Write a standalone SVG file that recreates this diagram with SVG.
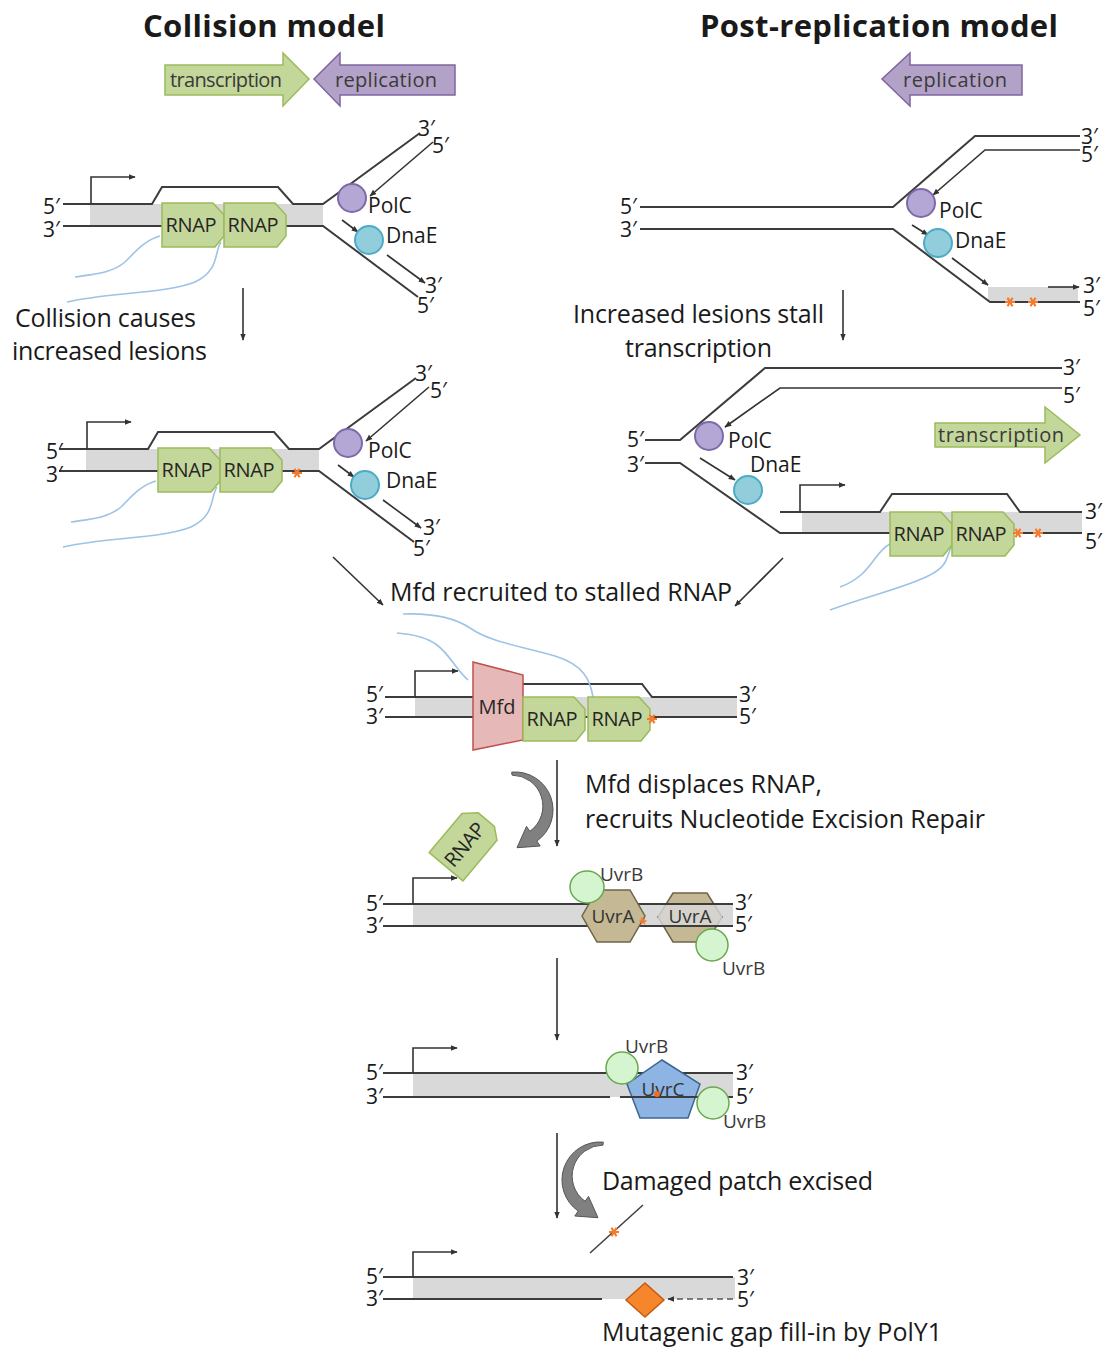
<svg xmlns="http://www.w3.org/2000/svg" width="1110" height="1350" viewBox="0 0 1110 1350">
<style>
  text{font-family:"Open Sans","Liberation Sans",sans-serif;fill:#1a1a1a}
  .title{font-size:31px;font-weight:bold;text-anchor:middle}
  .cap{font-size:25px}
  .end{font-size:21px}
  .in{font-size:20px;text-anchor:middle;fill:#262626}
  .arrtxt{font-size:20px;text-anchor:middle;fill:#3a3a3a}
  .lab{font-size:21px}
  .uvr{font-size:19px;fill:#3a3a3a}
  .uvrin{font-size:19px;fill:#333;text-anchor:middle}
  .strand{fill:none;stroke:#3c3c3c;stroke-width:2}
  .thin{fill:none;stroke:#333;stroke-width:1.6}
  .band{fill:#d9d9d9}
  .rnap{fill:#c4d79b;stroke:#9bbb59;stroke-width:1.5}
  .rna{fill:none;stroke:#9dc3e6;stroke-width:1.6}
  .polc{fill:#b4a7d6;stroke:#7d6aa8;stroke-width:2}
  .dnae{fill:#92cddc;stroke:#4bacc6;stroke-width:2}
  .uvrb{fill:#d5f5d0;stroke:#6aa84f;stroke-width:1.5}
  .uvra{fill:#c4b994;stroke:#6f6448;stroke-width:1.5}
  .star{fill:none;stroke:#f47a2c;stroke-width:2.2}
  .bend{fill:#808080;stroke:#555;stroke-width:1}
  .conn{fill:none;stroke:#333;stroke-width:1.6}
  .green{fill:#c4d79b;stroke:#9bbb59;stroke-width:1.5}
  .purple{fill:#b3a2c7;stroke:#8064a2;stroke-width:1.5}
</style>
<defs>
  <marker id="ah" viewBox="0 0 10 10" refX="9" refY="5" markerWidth="7" markerHeight="7" markerUnits="userSpaceOnUse" orient="auto">
    <path d="M0,1L10,5L0,9z" fill="#333"/>
  </marker>
  <path id="rnapBox" d="M0,0H51L62,12V33L53,44H0Z"/>
  <path id="lesion" d="M-5,0H5M-2.5,-4.3L2.5,4.3M-2.5,4.3L2.5,-4.3"/>
  <path id="bendArrow" d="M511.7,772.1A38,38 0 0 1 536.8,841.1L540.2,846L517,847.7L526.5,826.4L529.9,831.3A31,31 0 0 0 512,775.1Z"/>
</defs>

<!-- headings -->
<g id="titles">
  <text class="title" x="264" y="37" textLength="242">Collision model</text>
  <text class="title" x="879" y="37" textLength="358">Post-replication model</text>
</g>

<!-- direction arrows -->
<g id="dir-transcription-left">
  <polygon class="green" points="165,65 283,65 283,53 309,79 283,106 283,95 165,95"/>
  <text class="arrtxt" x="226" y="87" textLength="112">transcription</text>
</g>
<g id="dir-replication-left">
  <polygon class="purple" points="455,65 340,65 340,53 314,79 340,106 340,95 455,95"/>
  <text class="arrtxt" x="386" y="87" textLength="102">replication</text>
</g>
<g id="dir-replication-right">
  <polygon class="purple" points="1022,65 910,65 910,53 882,79 910,106 910,95 1022,95"/>
  <text class="arrtxt" x="955" y="87" textLength="104">replication</text>
</g>

<!-- collision model: fork approaching transcribed gene -->
<g id="collision-fork">
  <rect class="band" x="90" y="204" width="233" height="22"/>
  <path class="strand" d="M63,204H152L162,187H278L293,204H323L420,133"/>
  <path class="strand" d="M63,226H323L418,297"/>
  <path class="thin" d="M91,204V177H135" marker-end="url(#ah)"/>
  <path class="rna" d="M160,236C145,240 135,252 125,262C112,273 95,274 75,277"/>
  <path class="rna" d="M221,242C214,252 220,270 195,282C165,294 110,292 67,302"/>
  <use href="#rnapBox" class="rnap" x="162" y="203"/>
  <use href="#rnapBox" class="rnap" x="224" y="203"/>
  <text class="in" x="191" y="232" textLength="51">RNAP</text>
  <text class="in" x="253" y="232" textLength="51">RNAP</text>
  <path class="thin" d="M433,142L370,196" marker-end="url(#ah)"/>
  <path class="thin" d="M342,220L358,232" marker-end="url(#ah)"/>
  <path class="thin" d="M387,255L425,283" marker-end="url(#ah)"/>
  <circle class="polc" cx="352" cy="198" r="14"/>
  <circle class="dnae" cx="369" cy="240" r="14"/>
  <text class="lab" x="368" y="213">PolC</text>
  <text class="lab" x="386" y="243">DnaE</text>
  <text class="end" x="43" y="214">5′</text>
  <text class="end" x="43" y="237">3′</text>
  <text class="end" x="418" y="136">3′</text>
  <text class="end" x="432" y="153">5′</text>
  <text class="end" x="425" y="293">3′</text>
  <text class="end" x="417" y="313">5′</text>
</g>

<g id="collision-caption">
  <text class="cap" x="15" y="327" textLength="181">Collision causes</text>
  <text class="cap" x="12" y="360" textLength="195">increased lesions</text>
</g>

<!-- collision model: lesion left behind the stalled RNAP -->
<g id="collision-lesion" transform="translate(-4,245)">
  <rect class="band" x="90" y="204" width="233" height="22"/>
  <path class="strand" d="M63,204H152L162,187H278L293,204H323L420,133"/>
  <path class="strand" d="M63,226H323L418,297"/>
  <path class="thin" d="M91,204V177H135" marker-end="url(#ah)"/>
  <path class="rna" d="M160,236C145,240 135,252 125,262C112,273 95,274 75,277"/>
  <path class="rna" d="M221,242C214,252 220,270 195,282C165,294 110,292 67,302"/>
  <use href="#rnapBox" class="rnap" x="162" y="203"/>
  <use href="#rnapBox" class="rnap" x="224" y="203"/>
  <text class="in" x="191" y="232" textLength="51">RNAP</text>
  <text class="in" x="253" y="232" textLength="51">RNAP</text>
  <use href="#lesion" class="star" x="301" y="228"/>
  <path class="thin" d="M433,142L370,196" marker-end="url(#ah)"/>
  <path class="thin" d="M342,220L358,232" marker-end="url(#ah)"/>
  <path class="thin" d="M387,255L425,283" marker-end="url(#ah)"/>
  <circle class="polc" cx="352" cy="198" r="14"/>
  <circle class="dnae" cx="369" cy="240" r="14"/>
  <text class="lab" x="372" y="213">PolC</text>
  <text class="lab" x="390" y="243">DnaE</text>
  <text class="end" x="50" y="214">5′</text>
  <text class="end" x="50" y="237">3′</text>
  <text class="end" x="419" y="136">3′</text>
  <text class="end" x="434" y="153">5′</text>
  <text class="end" x="427" y="290">3′</text>
  <text class="end" x="417" y="311">5′</text>
</g>

<!-- post-replication model: fork leaves lesions behind -->
<g id="post-fork">
  <rect class="band" x="988" y="287" width="90" height="15"/>
  <path class="strand" d="M640,207H893L975,136H1080"/>
  <path class="strand" d="M640,229H893L990,302H1080"/>
  <path class="thin" d="M1080,150H985L933,195" marker-end="url(#ah)"/>
  <path class="thin" d="M912,225L928,235" marker-end="url(#ah)"/>
  <path class="thin" d="M952,258L988,285" marker-end="url(#ah)"/>
  <path class="thin" d="M1048,287H1079" marker-end="url(#ah)"/>
  <use href="#lesion" class="star" x="1010" y="302"/>
  <use href="#lesion" class="star" x="1033" y="302"/>
  <circle class="polc" cx="921" cy="203" r="14"/>
  <circle class="dnae" cx="938" cy="243" r="14"/>
  <text class="lab" x="939" y="218">PolC</text>
  <text class="lab" x="955" y="248">DnaE</text>
  <text class="end" x="620" y="214">5′</text>
  <text class="end" x="620" y="237">3′</text>
  <text class="end" x="1081" y="144">3′</text>
  <text class="end" x="1081" y="162">5′</text>
  <text class="end" x="1083" y="293">3′</text>
  <text class="end" x="1083" y="316">5′</text>
</g>

<g id="post-caption">
  <text class="cap" x="573" y="323" textLength="251">Increased lesions stall</text>
  <text class="cap" x="625" y="357" textLength="147">transcription</text>
</g>

<!-- post-replication model: RNAP stalls at the lesions -->
<g id="post-stall">
  <rect class="band" x="802" y="512" width="280" height="21"/>
  <path class="strand" d="M645,440H680L765,368H1062"/>
  <path class="strand" d="M645,463H680L780,533H1082"/>
  <path class="strand" d="M780,512H880L892,494H1007L1020,512H1082"/>
  <path class="thin" d="M1062,388H780L725,427" marker-end="url(#ah)"/>
  <path class="thin" d="M700,458L735,480" marker-end="url(#ah)"/>
  <path class="thin" d="M800,512V485H845" marker-end="url(#ah)"/>
  <path class="rna" d="M890,544C878,550 875,562 862,574C853,582 846,585 840,587"/>
  <path class="rna" d="M952,546C946,555 950,565 930,575C905,588 870,595 830,610"/>
  <use href="#rnapBox" class="rnap" x="890" y="512"/>
  <use href="#rnapBox" class="rnap" x="952" y="512"/>
  <text class="in" x="919" y="541" textLength="51">RNAP</text>
  <text class="in" x="981" y="541" textLength="51">RNAP</text>
  <use href="#lesion" class="star" x="1018" y="533"/>
  <use href="#lesion" class="star" x="1038" y="533"/>
  <circle class="polc" cx="709" cy="436" r="14"/>
  <circle class="dnae" cx="748" cy="490" r="14"/>
  <text class="lab" x="728" y="448">PolC</text>
  <text class="lab" x="750" y="472">DnaE</text>
  <text class="end" x="627" y="447">5′</text>
  <text class="end" x="627" y="472">3′</text>
  <text class="end" x="1063" y="375">3′</text>
  <text class="end" x="1063" y="403">5′</text>
  <text class="end" x="1085" y="519">3′</text>
  <text class="end" x="1085" y="549">5′</text>
</g>
<g id="dir-transcription-right">
  <polygon class="green" points="935,423 1045,423 1045,407 1080,435 1045,463 1045,447 935,447"/>
  <text class="arrtxt" x="1001" y="442" textLength="126">transcription</text>
</g>

<g id="mfd-caption">
  <text class="cap" x="390" y="601" textLength="342">Mfd recruited to stalled RNAP</text>
</g>

<!-- Mfd docks behind the stalled RNAP -->
<g id="mfd-complex">
  <rect class="band" x="415" y="697" width="322" height="20"/>
  <path class="strand" d="M385,697H490L500,684H642L652,697H737"/>
  <path class="strand" d="M385,717H737"/>
  <path class="thin" d="M415,697V671H458" marker-end="url(#ah)"/>
  <path class="rna" d="M593,697C590,680 584,665 555,656C520,646 490,642 470,628C452,616 430,613 403,614"/>
  <path class="rna" d="M468,680C455,668 450,655 437,645C425,636 410,634 397,633"/>
  <polygon points="473,662 523,675 523,740 473,750" fill="#e6b9b8" stroke="#c0504d" stroke-width="1.5"/>
  <text class="in" x="497" y="714">Mfd</text>
  <use href="#rnapBox" class="rnap" x="523" y="697"/>
  <use href="#rnapBox" class="rnap" x="588" y="697"/>
  <text class="in" x="552" y="726" textLength="51">RNAP</text>
  <text class="in" x="617" y="726" textLength="51">RNAP</text>
  <use href="#lesion" class="star" x="652" y="719"/>
  <text class="end" x="366" y="702">5′</text>
  <text class="end" x="366" y="724">3′</text>
  <text class="end" x="739" y="702">3′</text>
  <text class="end" x="739" y="724">5′</text>
</g>

<g id="ner-caption">
  <text class="cap" x="585" y="793" textLength="237">Mfd displaces RNAP,</text>
  <text class="cap" x="585" y="828" textLength="400">recruits Nucleotide Excision Repair</text>
</g>

<g id="released-rnap" transform="translate(466,843) rotate(-50) translate(-31,-22)">
  <use href="#rnapBox" class="rnap"/>
  <text class="in" x="29" y="29" textLength="51">RNAP</text>
</g>

<!-- UvrA2B2 scanning the lesion -->
<g id="uvra-complex">
  <rect class="band" x="413" y="904" width="320" height="22"/>
  <polygon class="uvra" points="673,893 707,893 722,917 707,942 673,942 658,917"/>
  <rect x="658" y="904" width="64" height="22" fill="#d9d9d9" fill-opacity="0.8"/>
  <path class="strand" d="M383,904H733M383,926H733"/>
  <path class="thin" d="M413,904V878H457" marker-end="url(#ah)"/>
  <polygon class="uvra" points="597,890 630,890 645,916 630,942 597,942 582,916"/>
  <use href="#lesion" class="star" x="643" y="921" transform="translate(643,921) scale(0.7) translate(-643,-921)"/>
  <text class="uvrin" x="613" y="923">UvrA</text>
  <text class="uvrin" x="690" y="923">UvrA</text>
  <ellipse class="uvrb" cx="587" cy="887" rx="17" ry="16"/>
  <circle class="uvrb" cx="712" cy="945" r="16"/>
  <text class="uvr" x="600" y="881">UvrB</text>
  <text class="uvr" x="722" y="975">UvrB</text>
  <text class="end" x="366" y="911">5′</text>
  <text class="end" x="366" y="933">3′</text>
  <text class="end" x="735" y="910">3′</text>
  <text class="end" x="735" y="932">5′</text>
</g>

<!-- UvrC incises around the lesion -->
<g id="uvrc-complex">
  <rect class="band" x="413" y="1073" width="320" height="24"/>
  <path class="strand" d="M383,1073H733"/>
  <path class="thin" d="M413,1073V1048H457" marker-end="url(#ah)"/>
  <polygon points="662,1060 700,1084 688,1118 640,1118 627,1084" fill="#8db4e2" stroke="#3d6591" stroke-width="1.5"/>
  <text class="uvrin" x="663" y="1096">UvrC</text>
  <path class="strand" d="M383,1097H610M620,1097H733"/>
  <circle cx="657" cy="1094" r="3" fill="#f26c21"/>
  <circle class="uvrb" cx="622" cy="1068" r="16"/>
  <circle class="uvrb" cx="713" cy="1103" r="16"/>
  <text class="uvr" x="625" y="1053">UvrB</text>
  <text class="uvr" x="723" y="1128">UvrB</text>
  <text class="end" x="366" y="1080">5′</text>
  <text class="end" x="366" y="1104">3′</text>
  <text class="end" x="736" y="1080">3′</text>
  <text class="end" x="736" y="1104">5′</text>
</g>

<g id="excision-caption">
  <text class="cap" x="602" y="1190" textLength="271">Damaged patch excised</text>
</g>

<g id="excised-patch">
  <path d="M643,1205L590,1253" stroke="#404040" stroke-width="1.5"/>
  <use href="#lesion" class="star" x="614" y="1232"/>
</g>

<!-- PolY1 fills the gap -->
<g id="gap-fill">
  <rect class="band" x="413" y="1277" width="322" height="22"/>
  <path class="strand" d="M383,1277H733M383,1299H602"/>
  <path class="thin" d="M413,1277V1252H457" marker-end="url(#ah)"/>
  <path d="M733,1299H668" fill="none" stroke="#555" stroke-width="1.6" stroke-dasharray="6 4" marker-end="url(#ah)"/>
  <polygon points="645,1283 664,1300 645,1317 626,1300" fill="#f6862c" stroke="#c55a11" stroke-width="1.5"/>
  <text class="end" x="366" y="1284">5′</text>
  <text class="end" x="366" y="1306">3′</text>
  <text class="end" x="737" y="1285">3′</text>
  <text class="end" x="737" y="1307">5′</text>
  <text class="cap" x="602" y="1341" textLength="340">Mutagenic gap fill-in by PolY1</text>
</g>

<!-- step connectors -->
<g id="connectors">
  <path class="conn" d="M243,288V340" marker-end="url(#ah)"/>
  <path class="conn" d="M843,290V340" marker-end="url(#ah)"/>
  <path class="conn" d="M333,557L383,605" marker-end="url(#ah)"/>
  <path class="conn" d="M783,558L735,606" marker-end="url(#ah)"/>
  <path class="conn" d="M557,760V846" marker-end="url(#ah)"/>
  <path class="conn" d="M557,958V1040" marker-end="url(#ah)"/>
  <path class="conn" d="M557,1133V1218" marker-end="url(#ah)"/>
  <use href="#bendArrow" class="bend"/>
  <use href="#bendArrow" class="bend" transform="translate(1115,370) scale(-1,1)"/>
</g>
</svg>
